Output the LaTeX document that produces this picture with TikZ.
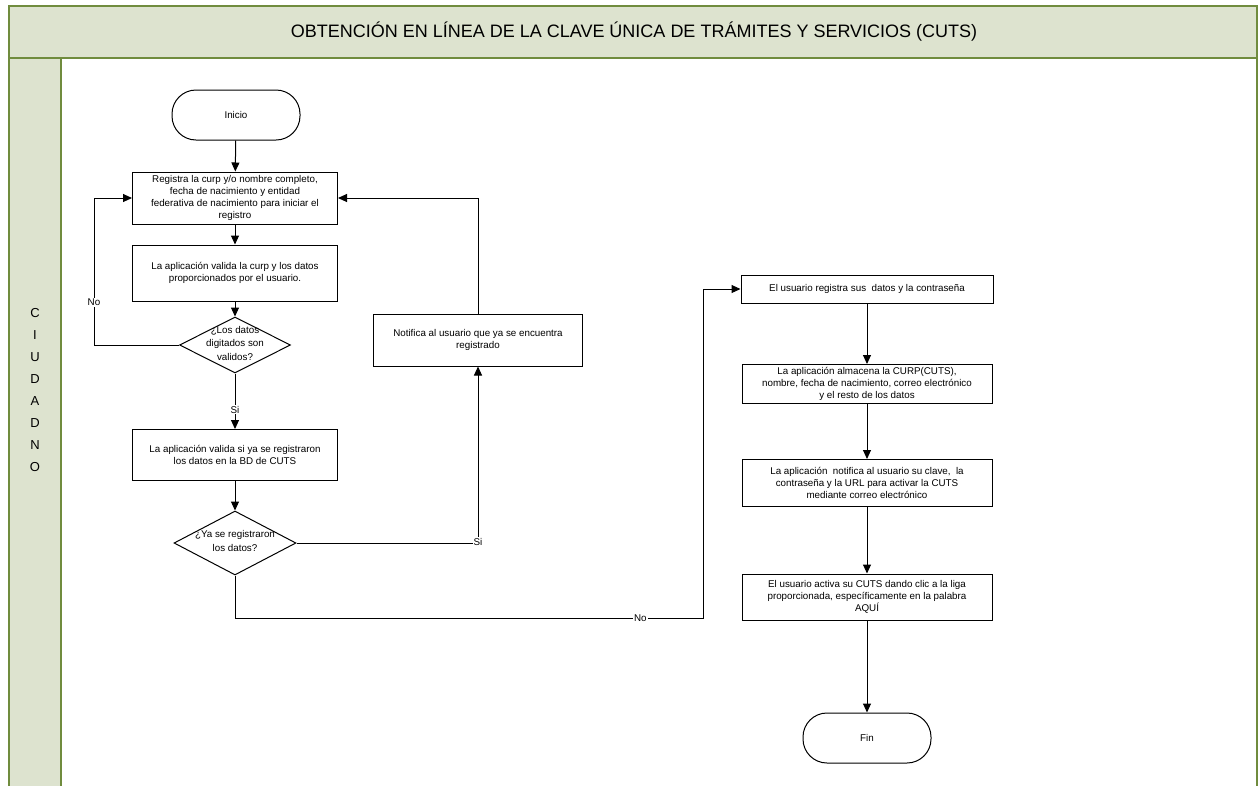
\documentclass[tikz,border=0pt]{standalone}
\usepackage{fontspec}
\setmainfont{Liberation Sans}
\usetikzlibrary{shapes.geometric,arrows.meta}

\definecolor{lanefill}{RGB}{221,227,207}
\definecolor{laneline}{RGB}{112,140,62}
% text that may run over the edge of a diamond
\newcommand{\dectext}[1]{\smash{\makebox[0pt]{\renewcommand{\arraystretch}{1.15}\begin{tabular}[c]{@{}c@{}}#1\end{tabular}}}}

\begin{document}
\begin{tikzpicture} [x=1pt, y=-1pt, font=\fontsize{9.8}{11.8}\selectfont]
	\tikzset{proc/.style={draw, line width=1pt, align=center, inner sep=1pt}}
	\tikzset{term/.style={draw, line width=1pt, rounded corners=24pt, minimum width=128pt, minimum height=50pt}}
	\tikzset{dec/.style={draw, line width=1pt, diamond, inner sep=0pt}}
	\tikzset{arr/.style={line width=1pt, -{Triangle[length=9pt, width=8pt]}}}
	\tikzset{lbl/.style={fill=white, inner sep=1pt}}
	\tikzset{lane/.style={draw=laneline, fill=lanefill, line width=2.5pt}}

	\useasboundingbox[fill=white] (0,0) rectangle (1259,785);

	% pool and lane
	\fill[lanefill] (9,58) rectangle (61,790);
	\draw[lane] (9,6) rectangle (1257,58);
	\draw[laneline, line width=2.5pt] (9,58) -- (9,790)  (61,58) -- (61,790)  (1257,58) -- (1257,790);
	\node		(title)	at (634,32)	{\fontsize{18}{20}\selectfont OBTENCIÓN EN LÍNEA DE LA CLAVE ÚNICA DE TRÁMITES Y SERVICIOS (CUTS)};
	\node[align=center, font=\fontsize{13}{22}\selectfont]	(lanename)	at (35,390)	{C\\I\\U\\D\\A\\D\\N\\O};

	% left column
	\node[term]	(inicio)	at (236,115)	{Inicio};
	\node[proc, minimum width=205pt, minimum height=52pt]	(reg)	at (235,198)
		{Registra la curp y/o nombre completo,\\fecha de nacimiento y entidad\\federativa de nacimiento para iniciar el\\registro};
	\node[proc, minimum width=205pt, minimum height=56pt]	(val)	at (235,273)
		{La aplicación valida la curp y los datos\\proporcionados por el usuario.};
	\node[dec, minimum width=111pt, minimum height=56pt]	(dec1)	at (235,345)
		{\raisebox{-3pt}{\dectext{¿Los datos\\digitados son\\validos?}}};
	\node[proc, minimum width=205pt, minimum height=51pt]	(valbd)	at (235,455)
		{La aplicación valida si ya se registraron\\los datos en la BD de CUTS};
	\node[dec, minimum width=122pt, minimum height=64pt]	(dec2)	at (235,543)
		{\raisebox{-3pt}{\dectext{¿Ya se registraron\\los datos?}}};
	\node[proc, minimum width=209pt, minimum height=52pt]	(notif)	at (478,340)
		{Notifica al usuario que ya se encuentra\\registrado};
	\coordinate	(turn)	at (703,618);

	% right column
	\node[proc, minimum width=252pt, minimum height=28pt]	(usr)	at (867,289)
		{El usuario registra sus\ \ datos y la contraseña};
	\node[proc, minimum width=250pt, minimum height=39pt]	(alm)	at (867,384)
		{La aplicación almacena la CURP(CUTS),\\nombre, fecha de nacimiento, correo electrónico\\y el resto de los datos};
	\node[proc, minimum width=250pt, minimum height=47pt]	(clave)	at (867,483)
		{La aplicación\ \ notifica al usuario su clave,\ \ la\\contraseña y la URL para activar la CUTS\\mediante correo electrónico};
	\node[proc, minimum width=250pt, minimum height=46pt]	(activa)	at (867,597)
		{El usuario activa su CUTS dando clic a la liga\\proporcionada, específicamente en la palabra\\AQUÍ};
	\node[term]	(fin)	at (867,738)	{Fin};

	\path
		(inicio)	edge[arr]	(reg)
		(reg)		edge[arr]	(val)
		(val)		edge[arr]	(dec1)
		(dec1)		edge[arr]	node[lbl, pos=0.65]	{Si}	(valbd)
		(valbd)		edge[arr]	(dec2)
		(usr)		edge[arr]	(alm)
		(alm)		edge[arr]	(clave)
		(clave)		edge[arr]	(activa)
		(activa)	edge[arr]	(fin)
		;
	\draw[arr] (dec1.west) -- ++(-85,0) |- node[lbl, pos=0.146] {No} (reg.west);
	\draw[arr] (dec2.east) -| node[lbl, pos=0.5, yshift=1pt] {Si} (notif.south);
	\draw[arr] (notif.north) |- (reg.east);
	\draw[arr] (dec2.south) |- node[lbl, pos=0.933] {No} (turn) |- (usr.west);
\end{tikzpicture}
\end{document}
